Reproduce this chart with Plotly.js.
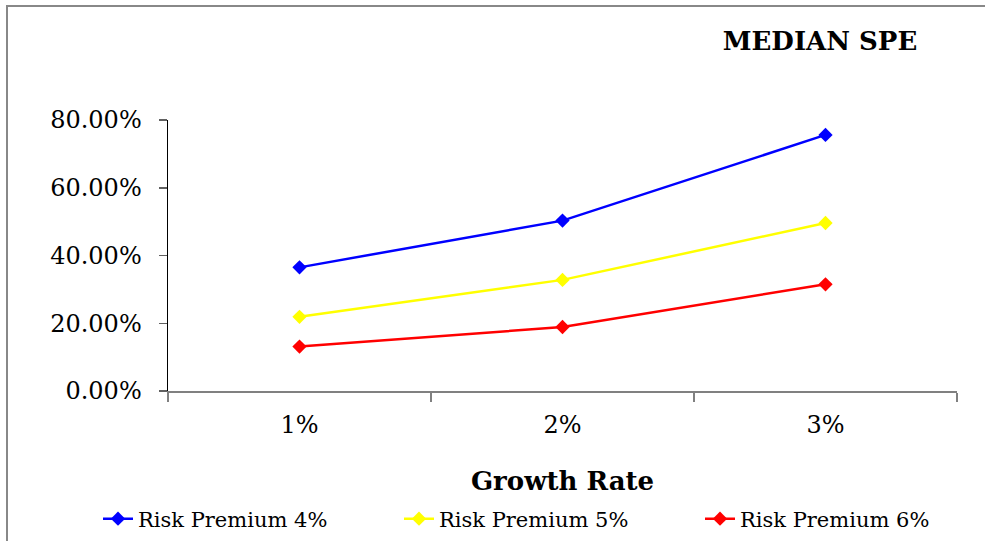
<!DOCTYPE html>
<html>
<head>
<meta charset="utf-8">
<script src="https://cdn.plot.ly/plotly-3.0.1.min.js"></script>
<style>
  html, body { margin: 0; padding: 0; background: #ffffff; }
  #chart { width: 985px; height: 541px; }
</style>
</head>
<body>
<div id="chart"></div>
<script>
// Growth rate categories on the x axis
const growthRates = ['1%', '2%', '3%'];

// Median SPE for each equity risk premium scenario
const riskPremium4 = [0.365, 0.503, 0.756];
const riskPremium5 = [0.219, 0.328, 0.496];
const riskPremium6 = [0.131, 0.189, 0.315];

const seriesNames = ['Risk Premium 4%', 'Risk Premium 5%', 'Risk Premium 6%'];
const seriesColors = ['#0000ff', '#ffff00', '#ff0000'];

const yTickValues = [0, 0.2, 0.4, 0.6, 0.8];

const serif = 'DejaVu Serif, Liberation Serif, serif';

const W = 985, H = 541;
const margin = { l: 168, r: 28, t: 120, b: 150, autoexpand: false };
const plotW = W - margin.l - margin.r;
const plotH = H - margin.t - margin.b;

// convert page pixels to paper fractions for the outer frame and labels
const px = x => (x - margin.l) / plotW;
const py = y => (H - margin.b - y) / plotH;

const allSeries = [riskPremium4, riskPremium5, riskPremium6];
const traces = allSeries.map((vals, i) => ({
  type: 'scatter',
  mode: 'lines+markers',
  x: growthRates,
  y: vals,
  name: seriesNames[i],
  line: { color: seriesColors[i], width: 2.5 },
  marker: { symbol: 'diamond', size: 11, color: seriesColors[i] },
  hoverinfo: 'skip'
}));

const layout = {
  width: W,
  height: H,
  margin: margin,
  paper_bgcolor: '#ffffff',
  plot_bgcolor: '#ffffff',
  showlegend: true,
  title: {
    text: '<b>MEDIAN SPE</b>',
    font: { family: serif, size: 26, color: '#000000' },
    xref: 'paper', yref: 'container',
    x: px(820), xanchor: 'center',
    y: 1 - 41 / H, yanchor: 'middle'
  },
  xaxis: {
    type: 'category',
    range: [-0.5, 2.5],
    tickson: 'boundaries',
    ticks: 'outside',
    ticklen: 9,
    tickcolor: '#808080',
    tickwidth: 1.5,
    showline: true,
    linecolor: '#808080',
    linewidth: 2,
    showgrid: false,
    zeroline: false,
    ticklabelstandoff: 11,
    tickfont: { family: serif, size: 24, color: '#000000' },
    title: {
      text: '<b>Growth Rate</b>',
      font: { family: serif, size: 26, color: '#000000' },
      standoff: 34
    }
  },
  yaxis: {
    range: [0, 0.8],
    tickvals: yTickValues,
    tickformat: '.2%',
    ticks: 'outside',
    ticklen: 8,
    tickcolor: '#606060',
    tickwidth: 1.5,
    showline: true,
    linecolor: '#000000',
    linewidth: 1.5,
    showgrid: false,
    zeroline: false,
    ticklabelstandoff: 12,
    tickfont: { family: serif, size: 24, color: '#000000' }
  },
  legend: {
    orientation: 'h',
    x: px(98), xanchor: 'left',
    y: py(519), yanchor: 'middle',
    entrywidth: 256,
    entrywidthmode: 'pixels',
    font: { family: serif, size: 21, color: '#000000' },
    bgcolor: 'rgba(0,0,0,0)'
  },
  shapes: [{
    type: 'rect',
    xref: 'paper', yref: 'paper',
    x0: px(7), x1: px(1000),
    y0: py(560), y1: py(6),
    line: { color: '#888888', width: 2 },
    fillcolor: 'rgba(0,0,0,0)',
    layer: 'below'
  }]
};

Plotly.newPlot('chart', traces, layout, { displayModeBar: false, staticPlot: true });
</script>
</body>
</html>
